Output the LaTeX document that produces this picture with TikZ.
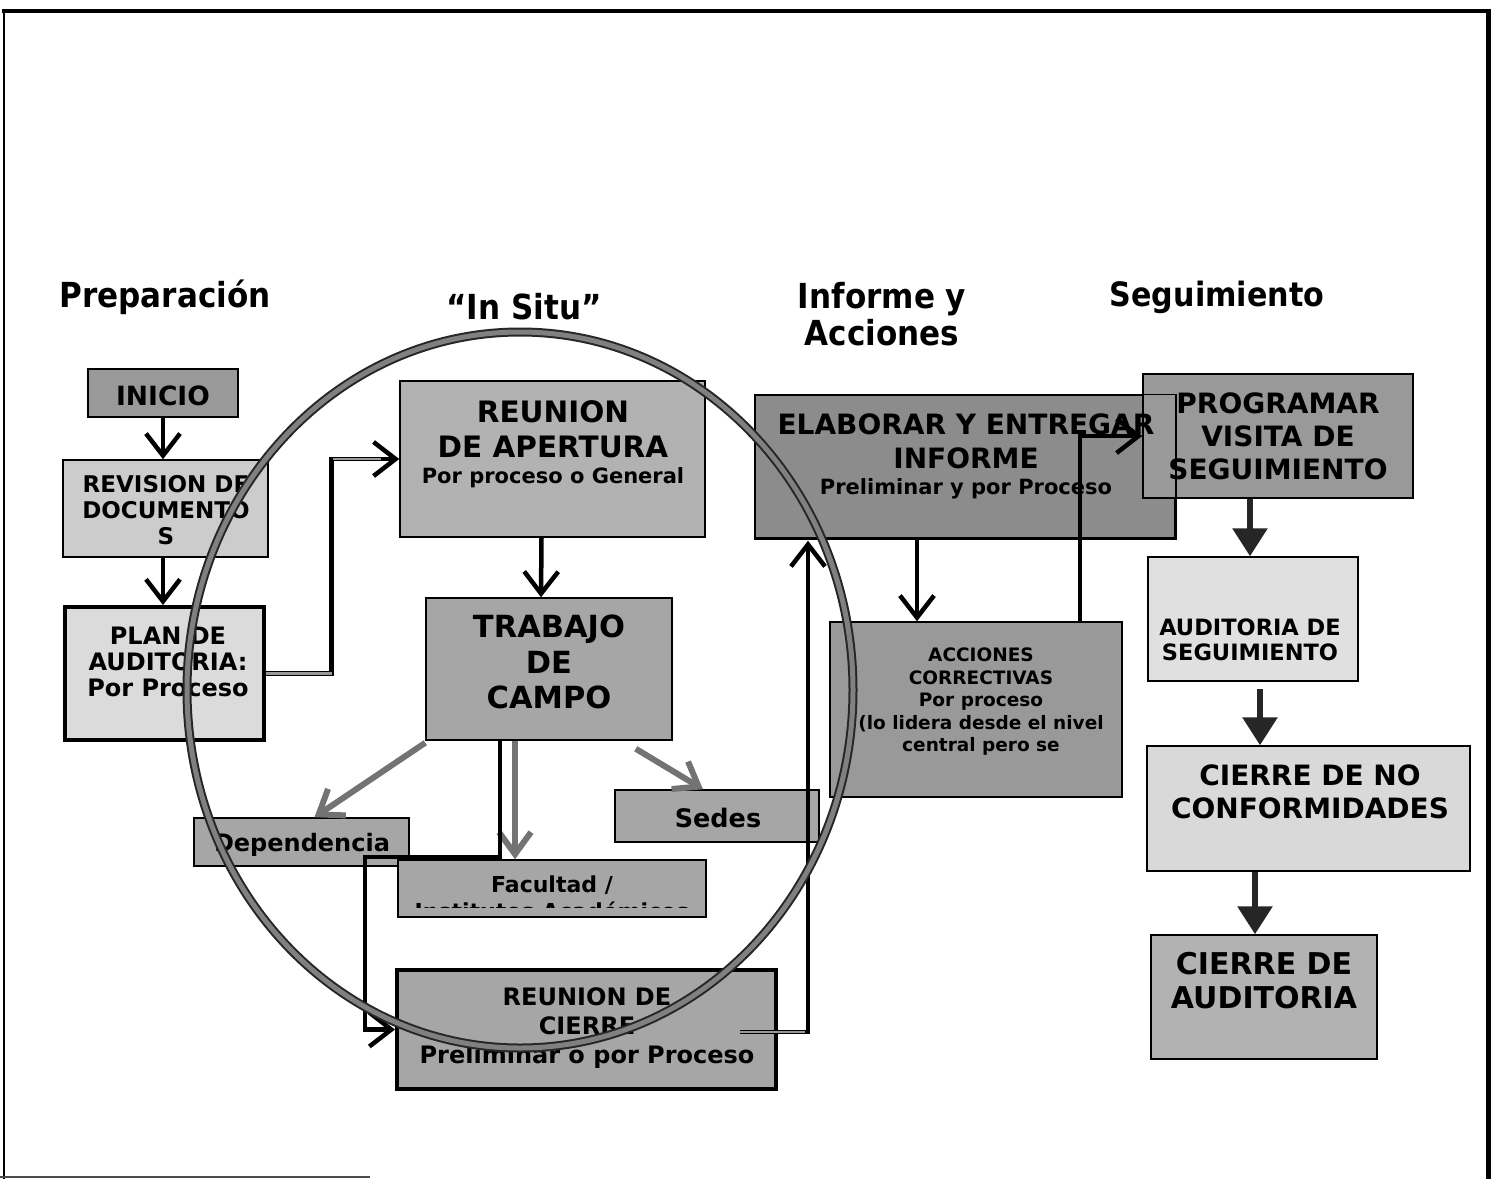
\documentclass[tikz,border=0pt]{standalone}
\usepackage{fontspec}
\setmainfont{DejaVu Sans}
\newfontfamily\hdr[FakeStretch=0.9]{DejaVu Sans}
\usetikzlibrary{arrows.meta,calc}
\newcommand\fsz[2]{\fontsize{#1}{#2}\selectfont}
\begin{document}
\begin{tikzpicture}[x=1pt,y=-1pt,
  box/.style={draw=black, line width=1.5pt, inner sep=0pt},
  thickbox/.style={draw=black, line width=4pt, inner sep=0pt},
  txt/.style={align=center, inner sep=0pt, text=black},
  hdrtxt/.style={align=center, inner sep=0pt, font=\hdr\bfseries\fsz{34.5}{37}},
  vee/.style={-{Straight Barb[length=22pt,width=34pt]}, line width=4.5pt, black},
  greyvee/.style={-{Straight Barb[length=22pt,width=32pt]}, line width=6pt, black!55},
  tri/.style={-{Triangle[length=28pt,width=34pt]}, line width=6pt, black!85},
  hatch/.style={line width=2.5pt, black!40}
]
\useasboundingbox (0,0) rectangle (1497,1179);
\fill[white] (0,0) rectangle (1497,1179);
% frame
\draw[line width=2pt] (4,1179) -- (4,11);
\draw[line width=4pt] (2,11) -- (1490,11);
\draw[line width=5pt] (1488,9) -- (1488,1179);
\draw[line width=1.5pt, black!70] (0,1177) -- (370,1177);

% headers
\node[hdrtxt] (h1) at (165,297) {Preparación};
\node[hdrtxt] (h2) at (524,307) {“In Situ”};
\node[hdrtxt] (h3) at (882,314) {Informe y\\Acciones};
\node[hdrtxt, font=\hdr\bfseries\fsz{33.5}{37}] (h4) at (1217,297) {Seguimiento};

% boxes
\node[box, fill=black!40, minimum width=150pt, minimum height=48pt] (inicio) at (163,393) {};
\node[txt, font=\bfseries\fsz{26.5}{30}] (tinicio) at (163,396) {INICIO};

\node[box, fill=black!20, minimum width=205pt, minimum height=97pt] (revision) at (165.5,508.5) {};
\node[txt, font=\bfseries\fsz{23}{26}] (trevision) at (166,510) {REVISION DE\\DOCUMENTO\\S};

\node[thickbox, fill=black!14, minimum width=199pt, minimum height=133pt] (plan) at (164.5,673.5) {};
\node[txt, font=\bfseries\fsz{24}{26}] (tplan) at (168,662) {PLAN DE\\AUDITORIA:\\Por Proceso};

\node[box, fill=black!30, minimum width=305pt, minimum height=156pt] (apertura) at (552.5,459) {};
\node[txt, font=\bfseries\fsz{29.5}{35}] (tapertura) at (553,429) {REUNION\\DE APERTURA};
\node[txt, font=\bfseries\fsz{21}{25}] (tapertura2) at (553,478) {Por proceso o General};

\node[box, fill=black!35, minimum width=246pt, minimum height=142pt] (trabajo) at (549,669) {};
\node[txt, font=\bfseries\fsz{30.5}{35.5}] (ttrabajo) at (549,662) {TRABAJO\\DE\\CAMPO};

\node[box, fill=black!35, minimum width=215pt, minimum height=48pt] (dependencia) at (301.5,842) {};
\node[txt, font=\bfseries\fsz{24}{28}] (tdependencia) at (302,845) {Dependencia};

\node[box, fill=black!35, minimum width=204pt, minimum height=52pt] (sedes) at (717,816) {};
\node[txt, font=\bfseries\fsz{25.5}{28}] (tsedes) at (718,818) {Sedes};

\node[box, fill=black!35, minimum width=308pt, minimum height=57pt] (facultad) at (552,888.5) {};
\begin{scope}
  \clip (398,861) rectangle (706,907);
  \node[txt, font=\bfseries\fsz{22}{27}, anchor=north] (tfacultad) at (552,876) {Facultad /\\Institutos Académicos};
\end{scope}

\node[thickbox, fill=black!35, minimum width=379pt, minimum height=119pt] (cierre) at (586.5,1029.5) {};
\node[txt, font=\bfseries\fsz{24}{29}] (tcierre) at (587,1028) {REUNION DE\\CIERRE\\Preliminar o por Proceso};

\node[box, fill=black!45, minimum width=420pt, minimum height=143pt] (elaborar) at (965,466.5) {};
\node[box, fill=black!40, minimum width=270pt, minimum height=124pt] (programar) at (1278,436) {};
\draw[line width=1.5pt] (elaborar.south west) rectangle (elaborar.north east);
\node[txt, font=\bfseries\fsz{28}{34}] (telaborar) at (966,441) {ELABORAR Y ENTREGAR\\INFORME};
\node[txt, font=\bfseries\fsz{21}{25}] (telaborar2) at (966,489) {Preliminar y por Proceso};
\node[txt, font=\bfseries\fsz{28}{33}] (tprogramar) at (1278,436) {PROGRAMAR\\VISITA DE\\SEGUIMIENTO};

\node[box, fill=black!40, minimum width=292pt, minimum height=175pt] (acciones) at (976,709.5) {};
\node[txt, font=\bfseries\fsz{18.5}{22.5}] (tacciones) at (981,702) {ACCIONES\\CORRECTIVAS\\Por proceso\\(lo lidera desde el nivel\\central pero se};

\node[box, fill=black!12, minimum width=210pt, minimum height=124pt] (audseg) at (1253,619) {};
\node[txt, font=\bfseries\fsz{22.5}{25}] (taudseg) at (1250,640) {AUDITORIA DE\\SEGUIMIENTO};

\node[box, fill=black!15, minimum width=323pt, minimum height=125pt] (cierrenc) at (1308.5,808.5) {};
\node[txt, font=\bfseries\fsz{28}{33}] (tcierrenc) at (1310,792) {CIERRE DE NO\\CONFORMIDADES};

\node[box, fill=black!30, minimum width=226pt, minimum height=124pt] (cierreaud) at (1264,997) {};
\node[txt, font=\bfseries\fsz{30}{34}] (tcierreaud) at (1264,981) {CIERRE DE\\AUDITORIA};

% connectors
\draw[vee] (inicio.south) -- (inicio.south |- revision.north);
\draw[vee] (inicio.south |- revision.south) -- (inicio.south |- plan.north);

\draw[vee] (plan.east) -| ($(apertura.west)+(-68,0)$) -- (apertura.west);
\draw[hatch] (plan.east) -- ($(plan.east)+(66,0)$);
\draw[hatch] ($(apertura.west)+(-66,0)$) -- ($(apertura.west)+(-18,0)$);

\draw[vee] ($(apertura.south)+(-11,0)$) -- ($(trabajo.north)+(-8,0)$);

\draw[greyvee] ($(trabajo.south west)+(0,2)$) -- ($(dependencia.north)+(13,0)$);
\draw[greyvee] ($(trabajo.south)+(-34,0)$) -- ($(facultad.north)+(-37,0)$);
\draw[greyvee] ($(trabajo.south east)+(-37,8)$) -- ($(sedes.north)+(-14,0)$);

\draw[vee] ($(trabajo.south)+(-49,0)$) |- (365,857) |- (cierre.west);

\coordinate (c1) at (740,1032);
\draw[vee] (c1) -| ($(elaborar.south)+(-157,2)$);
\draw[hatch] (c1) -- (805,1032);

\draw[vee] ($(elaborar.south)+(-48,0)$) -- ($(acciones.north)+(-59,0)$);
\draw[vee] ($(acciones.north)+(104,0)$) |- (programar.west);

\draw[tri] ($(programar.south)+(-28,0)$) -- ($(audseg.north)+(-3,0)$);
\draw[tri] ($(audseg.south)+(7,7)$) -- ($(cierrenc.north)+(-48.5,0)$);
\draw[tri] ($(cierrenc.south)+(-53.5,0)$) -- ($(cierreaud.north)+(-9,0)$);

% big circle
\draw[line width=9pt, black!85] (520,690) ellipse [x radius=333, y radius=358];
\draw[line width=5pt, black!50] (520,690) ellipse [x radius=333, y radius=358];
\end{tikzpicture}
\end{document}
